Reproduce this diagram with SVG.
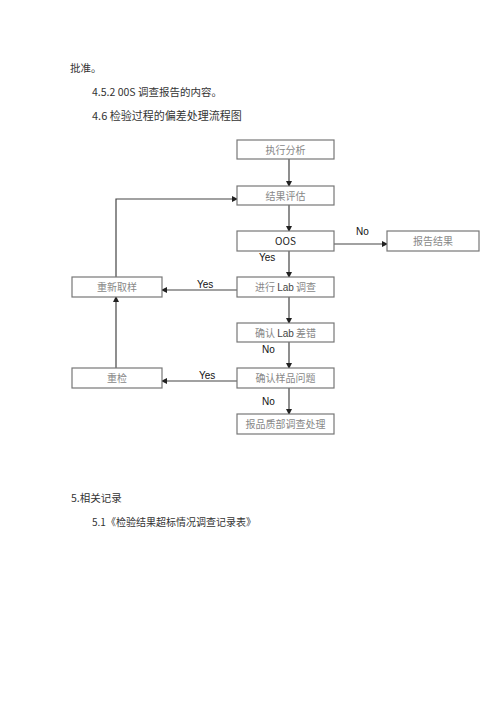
<svg xmlns="http://www.w3.org/2000/svg" width="500" height="707" viewBox="0 0 500 707">
<style>
.doc{font-family:"Noto Sans CJK SC","Liberation Sans",sans-serif;font-size:10.5px;fill:#333}
.box rect{fill:#fff;stroke:#777;stroke-width:1.2}
.box text{font-family:"Noto Sans CJK SC",sans-serif;font-size:10px;fill:#888;text-anchor:middle}
.lat{font-family:"Liberation Sans",Arial,sans-serif;fill:#333}
.lbl{font-family:"Liberation Sans",Arial,sans-serif;font-size:10px;fill:#111}
#connectors path{fill:none;stroke:#444;stroke-width:1.2}
</style>
<defs>
<marker id="ah" markerWidth="6" markerHeight="6" refX="5" refY="3" orient="auto" markerUnits="userSpaceOnUse">
<path d="M0,0 L6,3 L0,6 Z" fill="#222"/>
</marker>
</defs>
<rect width="500" height="707" fill="#fff"/>
<text class="doc" x="70" y="72">批准。</text>
<text class="doc" x="92" y="96">4.5.2 00S 调查报告的内容。</text>
<text class="doc" x="92" y="120" style="font-size:11px">4.6 检验过程的偏差处理流程图</text>
<text class="doc" x="71" y="502">5.相关记录</text>
<text class="doc" x="92" y="526" style="font-size:10px">5.1《检验结果超标情况调查记录表》</text>

<g id="connectors">
<path d="M289,159 V186" marker-end="url(#ah)"/>
<path d="M289,205 V231" marker-end="url(#ah)"/>
<path d="M289,251 V277" marker-end="url(#ah)"/>
<path d="M289,297 V323" marker-end="url(#ah)"/>
<path d="M289,342 V368" marker-end="url(#ah)"/>
<path d="M289,388 V414" marker-end="url(#ah)"/>
<path d="M334,244 H387" marker-end="url(#ah)"/>
<path d="M237,290 H162" marker-end="url(#ah)"/>
<path d="M237,381 H162" marker-end="url(#ah)"/>
<path d="M116,368 V297" marker-end="url(#ah)"/>
<path d="M116,277 V199 H237" marker-end="url(#ah)"/>
<text class="lbl" x="356" y="235">No</text>
<text class="lbl" x="259" y="261">Yes</text>
<text class="lbl" x="197" y="288">Yes</text>
<text class="lbl" x="262" y="353">No</text>
<text class="lbl" x="199" y="379">Yes</text>
<text class="lbl" x="262" y="405">No</text>
</g>

<g id="n1" class="box"><rect x="237" y="140" width="97" height="19"/><text x="285.5" y="153.5">执行分析</text></g>
<g id="n2" class="box"><rect x="237" y="186" width="97" height="19"/><text x="285.5" y="199.5">结果评估</text></g>
<g id="n3" class="box"><rect x="237" y="231" width="97" height="20"/><text x="285.5" y="245" class="lat" style="fill:#222">OOS</text></g>
<g id="n4" class="box"><rect x="387" y="231" width="92" height="20"/><text x="433" y="245">报告结果</text></g>
<g id="n5" class="box"><rect x="237" y="277" width="97" height="20"/><text x="285.5" y="291">进行 <tspan class="lat" style="fill:#444">Lab</tspan> 调查</text></g>
<g id="n6" class="box"><rect x="237" y="323" width="97" height="19"/><text x="285.5" y="336.5">确认 <tspan class="lat" style="fill:#444">Lab</tspan> 差错</text></g>
<g id="n7" class="box"><rect x="237" y="368" width="97" height="20"/><text x="285.5" y="382">确认样品问题</text></g>
<g id="n8" class="box"><rect x="237" y="414" width="97" height="20"/><text x="285.5" y="428">报品质部调查处理</text></g>
<g id="n9" class="box"><rect x="72" y="277" width="90" height="20"/><text x="117" y="291">重新取样</text></g>
<g id="n10" class="box"><rect x="72" y="368" width="90" height="20"/><text x="117" y="382">重检</text></g>
</svg>
